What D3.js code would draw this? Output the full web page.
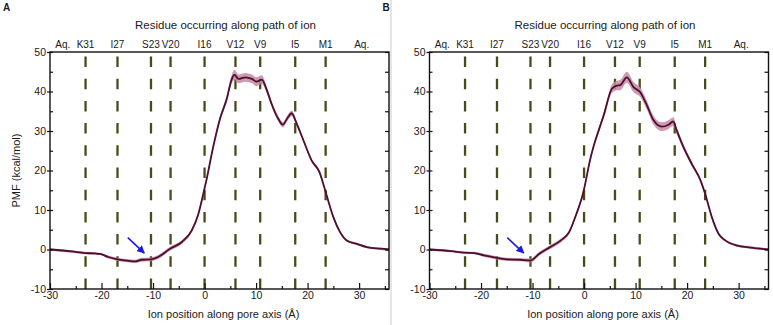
<!DOCTYPE html>
<html>
<head>
<meta charset="utf-8">
<script src="https://cdn.jsdelivr.net/npm/d3@7"></script>
<style>
  body { margin: 0; background: #fff; }
  text { font-family: "Liberation Sans", Arial, sans-serif; fill: #1a1a1a; }
  .axis path { display: none; }
  .axis line { stroke: #111; stroke-width: 1.2; }
  .axis text { font-size: 10.5px; font-family: "Liberation Sans", Arial, sans-serif; fill: #1a1a1a; }
</style>
</head>
<body>
<div id="chart"></div>
<script>
// residues along the pore (top labels + dashed lines)
var resNames = ["Aq.", "K31", "I27", "S23", "V20", "I16", "V12", "V9", "I5", "M1", "Aq."];
var resPos = [-27.5, -23.1, -16.9, -10.4, -6.6, 0, 6.0, 10.8, 17.6, 23.5, 30.5];

// panel A: PMF profile
var posA = [-30, -25.8, -23.2, -21.3, -20.3, -18.7, -16.9, -15.1, -13.5, -12.2, -10.4, -9.0, -6.7, -4.4, -2.5, -1.2,
  0, 0.4, 1.6, 3.0, 4.3, 5.3, 5.8, 6.6, 7.9, 9.2, 10.1, 11.1, 12.1, 13.0, 14.3, 15.2, 16.1, 16.9, 17.9,
  19.2, 20.8, 22.3, 23.6, 25.0, 26.3, 27.6, 29.6, 31.5, 34.1, 35.8];
var pmfA = [0, -0.5, -0.9, -1.0, -1.1, -1.9, -2.5, -2.8, -3.0, -2.6, -2.5, -1.9, 0.2, 1.9, 4.8, 9.0,
  15.5, 17.8, 25.5, 33.1, 38.1, 43.2, 44.2, 43.2, 43.6, 43.2, 42.5, 43.0, 40.3, 36.9, 33.1, 31.6, 33.3, 34.5, 31.8,
  27.6, 22.5, 19.6, 14.1, 8.2, 4.4, 2.3, 1.4, 0.6, 0.2, 0];
var errA = [0.1, 0.1, 0.1, 0.1, 0.1, 0.2, 0.2, 0.2, 0.2, 0.3, 0.3, 0.3, 0.3, 0.3, 0.3, 0.3,
  0.3, 0.3, 0.4, 0.5, 0.7, 0.9, 1.1, 0.9, 0.9, 0.9, 0.9, 0.9, 0.6, 0.5, 0.5, 0.5, 0.5, 0.5, 0.4,
  0.3, 0.3, 0.3, 0.2, 0.2, 0.2, 0.1, 0.1, 0.1, 0.1, 0.1];

// panel B: PMF profile
var posB = [-30, -25.8, -23.3, -21.3, -19.4, -16.9, -14.9, -12.3, -10.4, -8.7, -6.6, -4.5, -2.9, -1.6, -0.2,
  1.3, 1.8, 2.95, 3.8, 5.4, 6.4, 7.0, 8.3, 9.6, 10.9, 12.2, 13.5, 15.1, 16.4, 17.3, 18.0, 19.3, 20.9,
  22.6, 23.5, 24.8, 26.1, 27.4, 29.7, 32.3, 35.8];
var pmfB = [0, -0.4, -0.8, -0.9, -1.5, -2.1, -2.5, -2.6, -2.8, -1.1, 0.6, 2.3, 4.4, 8.6, 14.2,
  23.4, 25.9, 30.6, 33.9, 40.7, 41.5, 41.6, 43.6, 41.1, 39.8, 36.5, 32.7, 31.1, 31.6, 32.4, 30.1, 25.9, 21.7,
  17.5, 14.1, 8.2, 4.0, 2.3, 1.0, 0.5, 0];
var errB = [0.1, 0.1, 0.1, 0.1, 0.2, 0.2, 0.2, 0.2, 0.3, 0.3, 0.3, 0.3, 0.3, 0.3, 0.3,
  0.4, 0.4, 0.5, 0.6, 0.9, 1.0, 1.1, 1.2, 1.1, 1.0, 0.9, 0.9, 0.9, 0.9, 0.9, 0.7, 0.5, 0.4,
  0.3, 0.3, 0.2, 0.2, 0.1, 0.1, 0.1, 0.1];

// blue arrow (tail -> tip) in data units
var arrowFrom = [-14.9, 3.0];
var arrowTo = [-11.7, -0.9];

var yTicks = [-10, 0, 10, 20, 30, 40, 50];
var xTicks = [-30, -20, -10, 0, 10, 20, 30];

var W = 773, H = 325;
var w = 339, h = 237, mTop = 52;

var svg = d3.select("#chart").append("svg")
  .attr("width", W).attr("height", H);

// faint separator at left of panel B
svg.append("line")
  .attr("x1", 391).attr("x2", 391).attr("y1", 0).attr("y2", H)
  .attr("stroke", "#dcdcdc").attr("stroke-width", 1.5);

var x = d3.scaleLinear().domain([-30, 35.8]).range([0, w]);
var y = d3.scaleLinear().domain([-10, 50]).range([h, 0]);

svg.append("defs").append("marker")
  .attr("id", "ah")
  .attr("viewBox", "0 0 10 10")
  .attr("refX", 9).attr("refY", 5)
  .attr("markerWidth", 5).attr("markerHeight", 5)
  .attr("orient", "auto")
  .append("path").attr("d", "M0,0 L10,5 L0,10 z").attr("fill", "#1a1ae6");

function drawPanel(left, letter, pos, pmf, err, yLabel) {
  var g = svg.append("g").attr("transform", "translate(" + left + "," + mTop + ")");

  // panel letter
  svg.append("text").attr("x", left - 47).attr("y", 11)
    .style("font-size", "10px").style("font-weight", "bold").text(letter);

  // title
  g.append("text").attr("x", w / 2 + 6).attr("y", -23)
    .attr("text-anchor", "middle").style("font-size", "11.5px")
    .text("Residue occurring along path of ion");

  // residue labels
  g.selectAll(".res").data(resNames).enter().append("text")
    .attr("x", function(d, i) { return x(resPos[i]); })
    .attr("y", -4)
    .attr("text-anchor", "middle").style("font-size", "10px")
    .text(function(d) { return d; });

  // dashed residue lines
  g.selectAll(".resline").data(resPos.filter(function(d, i) { return resNames[i] != "Aq."; }))
    .enter().append("line")
    .attr("x1", function(d) { return x(d); }).attr("x2", function(d) { return x(d); })
    .attr("y1", h).attr("y2", 0)
    .attr("stroke", "#4a4a1c").attr("stroke-width", 2.3)
    .attr("stroke-dasharray", "10.5,11.7");

  var data = pos.map(function(p, i) { return {x: p, y: pmf[i], e: err[i]}; });

  // error band
  g.append("path").datum(data)
    .attr("fill", "#c68aa2").attr("fill-opacity", 0.85)
    .attr("d", d3.area().curve(d3.curveMonotoneX)
      .x(function(d) { return x(d.x); })
      .y0(function(d) { return y(d.y - d.e - 0.2); })
      .y1(function(d) { return y(d.y + d.e + 0.2); }));

  // PMF line
  g.append("path").datum(data)
    .attr("fill", "none").attr("stroke", "#4d0f2f").attr("stroke-width", 1.8)
    .attr("d", d3.line().curve(d3.curveMonotoneX)
      .x(function(d) { return x(d.x); })
      .y(function(d) { return y(d.y); }));

  // arrow
  g.append("line")
    .attr("x1", x(arrowFrom[0])).attr("y1", y(arrowFrom[1]))
    .attr("x2", x(arrowTo[0])).attr("y2", y(arrowTo[1]))
    .attr("stroke", "#1a1ae6").attr("stroke-width", 1.6)
    .attr("marker-end", "url(#ah)");

  // axes
  g.append("g").attr("class", "axis")
    .call(d3.axisLeft(y).tickValues(yTicks).tickSize(3).tickPadding(1).tickFormat(String));
  g.append("g").attr("class", "axis")
    .call(d3.axisLeft(y).tickValues(d3.range(-10, 51, 5)).tickSize(-3).tickFormat(""));
  g.append("g").attr("class", "axis")
    .attr("transform", "translate(" + w + ",0)")
    .call(d3.axisRight(y).tickValues(d3.range(-10, 51, 5)).tickSize(-4).tickFormat(""));
  g.append("g").attr("class", "axis")
    .attr("transform", "translate(0," + h + ")")
    .call(d3.axisBottom(x).tickValues(xTicks).tickSize(-6).tickPadding(3).tickFormat(String));
  g.append("g").attr("class", "axis")
    .attr("transform", "translate(0," + h + ")")
    .call(d3.axisBottom(x).tickValues(d3.range(-25, 36, 10)).tickSize(-3).tickFormat(""));

  // frame
  g.append("rect").attr("width", w).attr("height", h)
    .attr("fill", "none").attr("stroke", "#111").attr("stroke-width", 1.4);

  // x label
  g.append("text").attr("x", w / 2 + 4).attr("y", h + 29)
    .attr("text-anchor", "middle").style("font-size", "11px")
    .text("Ion position along pore axis (Å)");

  if (yLabel) {
    g.append("text")
      .attr("transform", "translate(" + (-30) + "," + (h / 2) + ") rotate(-90)")
      .attr("text-anchor", "middle").style("font-size", "11px")
      .text("PMF (kcal/mol)");
  }
}

drawPanel(50, "A", posA, pmfA, errA, true);
drawPanel(429.5, "B", posB, pmfB, errB, false);
</script>
</body>
</html>
